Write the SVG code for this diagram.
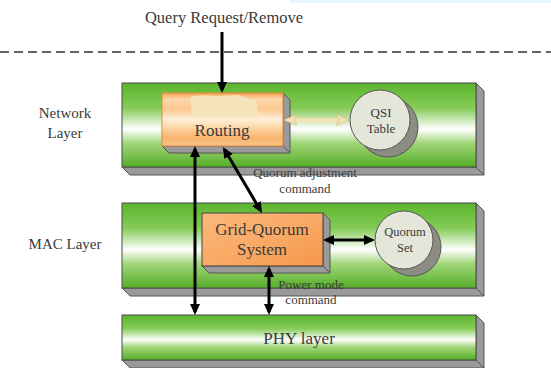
<svg xmlns="http://www.w3.org/2000/svg" width="551" height="368" viewBox="0 0 551 368">
<defs>
<linearGradient id="green" x1="0" y1="0" x2="0" y2="1">
<stop offset="0" stop-color="#5cb52c"/>
<stop offset="0.3" stop-color="#86cb58"/>
<stop offset="0.55" stop-color="#ffffff"/>
<stop offset="0.72" stop-color="#9fd577"/>
<stop offset="1" stop-color="#55ae27"/>
</linearGradient>
<linearGradient id="routing" x1="0" y1="0" x2="0" y2="1">
<stop offset="0" stop-color="#f7a255"/>
<stop offset="0.12" stop-color="#fcd7aa"/>
<stop offset="0.3" stop-color="#fbc88e"/>
<stop offset="0.5" stop-color="#fff0da"/>
<stop offset="0.7" stop-color="#fbcd96"/>
<stop offset="0.85" stop-color="#f8b36c"/>
<stop offset="1" stop-color="#f9c48a"/>
</linearGradient>
<linearGradient id="grid" x1="0" y1="0" x2="1" y2="1">
<stop offset="0" stop-color="#fbb77c"/>
<stop offset="0.5" stop-color="#f9aa66"/>
<stop offset="1" stop-color="#f5974a"/>
</linearGradient>
<marker id="ah" viewBox="0 0 11 10" refX="8" refY="5" markerWidth="11" markerHeight="10" markerUnits="userSpaceOnUse" orient="auto-start-reverse">
<path d="M0,0 L11,5 L0,10 z" fill="#000"/>
</marker>
<marker id="ahb" viewBox="0 0 14 12" refX="10" refY="6" markerWidth="14" markerHeight="12" markerUnits="userSpaceOnUse" orient="auto-start-reverse">
<path d="M0,0.5 L13,6 L0,11.5 L3,6 z" fill="#f2e2b4" stroke="#d9c48e" stroke-width="0.8"/>
</marker>
</defs>
<style>
.face{stroke:#4a4a4a;stroke-width:1}
.depth{fill:#9a9a9a;stroke:#555;stroke-width:1}
.band{fill:url(#green)}
.lbl{font-family:"Liberation Serif","Times New Roman",serif;fill:#3a3a3a;text-anchor:middle}
.conn{stroke:#000;stroke-width:3;fill:none}
.circ{fill:#e3e6d8;stroke:#555;stroke-width:1}
.shadow{fill:#8c8c84;stroke:#555;stroke-width:1}
</style>
<rect x="290" y="0" width="261" height="3" fill="#e4f7fb"/>

<g id="top-label">
<text class="lbl" x="224" y="23" font-size="16.5">Query Request/Remove</text>
</g>
<line x1="0" y1="52" x2="551" y2="52" stroke="#333" stroke-width="1.5" stroke-dasharray="9,5"/>

<g id="side-labels">
<text class="lbl" x="65" y="118" font-size="15">Network</text>
<text class="lbl" x="65" y="138" font-size="15">Layer</text>
<text class="lbl" x="65" y="249" font-size="15">MAC Layer</text>
</g>

<g id="network-layer">
<polygon class="depth" points="476,83 484,91 484,175 476,167"/>
<polygon class="depth" points="122,167 476,167 484,175 130,175"/>
<rect class="band face" x="122" y="83" width="354" height="84"/>
</g>

<g id="mac-layer">
<polygon class="depth" points="476,203 484,211 484,296 476,288"/>
<polygon class="depth" points="122,288 476,288 484,296 130,296"/>
<rect class="band face" x="122" y="203" width="354" height="85"/>
</g>

<g id="phy-layer">
<polygon class="depth" points="476,315 484,323 484,368 476,360"/>
<polygon class="depth" points="122,360 476,360 484,368 130,368"/>
<rect class="band face" x="122" y="315" width="354" height="45"/>
<text class="lbl" x="299" y="344" font-size="17">PHY layer</text>
</g>

<g id="routing">
<polygon class="depth" points="283,93 290,100 290,153 283,146"/>
<polygon class="depth" points="162,146 283,146 290,153 169,153"/>
<rect x="162" y="93" width="121" height="53" fill="url(#routing)" stroke="#e08a3c" stroke-width="1"/>
<path d="M190,97 Q200,94 215,96 L240,95 Q248,100 256,99 L259,117 L192,117 Z" fill="#f4e6bd" opacity="0.9"/>
<text class="lbl" x="222" y="136" font-size="17">Routing</text>
</g>

<g id="qsi-table">
<circle class="shadow" cx="388" cy="127" r="30"/>
<circle class="circ" cx="380" cy="120" r="30"/>
<text class="lbl" x="381" y="117" font-size="13">QSI</text>
<text class="lbl" x="381" y="133" font-size="13">Table</text>
</g>

<g id="grid-quorum">
<polygon class="depth" points="323,213 330,220 330,273 323,266"/>
<polygon class="depth" points="202,266 323,266 330,273 209,273"/>
<rect x="202" y="213" width="121" height="53" fill="url(#grid)" stroke="#444" stroke-width="1"/>
<text class="lbl" x="262" y="235" font-size="17">Grid-Quorum</text>
<text class="lbl" x="262" y="255" font-size="17">System</text>
</g>

<g id="quorum-set">
<circle class="shadow" cx="412" cy="247" r="29"/>
<circle class="circ" cx="404" cy="240" r="29"/>
<text class="lbl" x="405" y="236" font-size="12.5">Quorum</text>
<text class="lbl" x="405" y="252" font-size="12.5">Set</text>
</g>

<g id="connectors">
<line class="conn" x1="222" y1="32" x2="222" y2="90" marker-end="url(#ah)"/>
<line class="conn" x1="195" y1="149" x2="195" y2="312" marker-start="url(#ah)" marker-end="url(#ah)"/>
<line class="conn" x1="224.5" y1="149.6" x2="260.5" y2="210.4" marker-start="url(#ah)" marker-end="url(#ah)"/>
<line class="conn" x1="269" y1="269" x2="269" y2="312" marker-start="url(#ah)" marker-end="url(#ah)"/>
<line class="conn" x1="326" y1="240" x2="372" y2="240" marker-start="url(#ah)" marker-end="url(#ah)"/>
<line x1="287" y1="120" x2="346" y2="120" stroke="#f2e2b4" stroke-width="4" marker-start="url(#ahb)" marker-end="url(#ahb)"/>
<text class="lbl" x="305" y="177" font-size="13">Quorum adjustment</text>
<text class="lbl" x="305" y="193" font-size="13">command</text>
<text class="lbl" x="311" y="289" font-size="13">Power mode</text>
<text class="lbl" x="311" y="304" font-size="13">command</text>
</g>
</svg>
